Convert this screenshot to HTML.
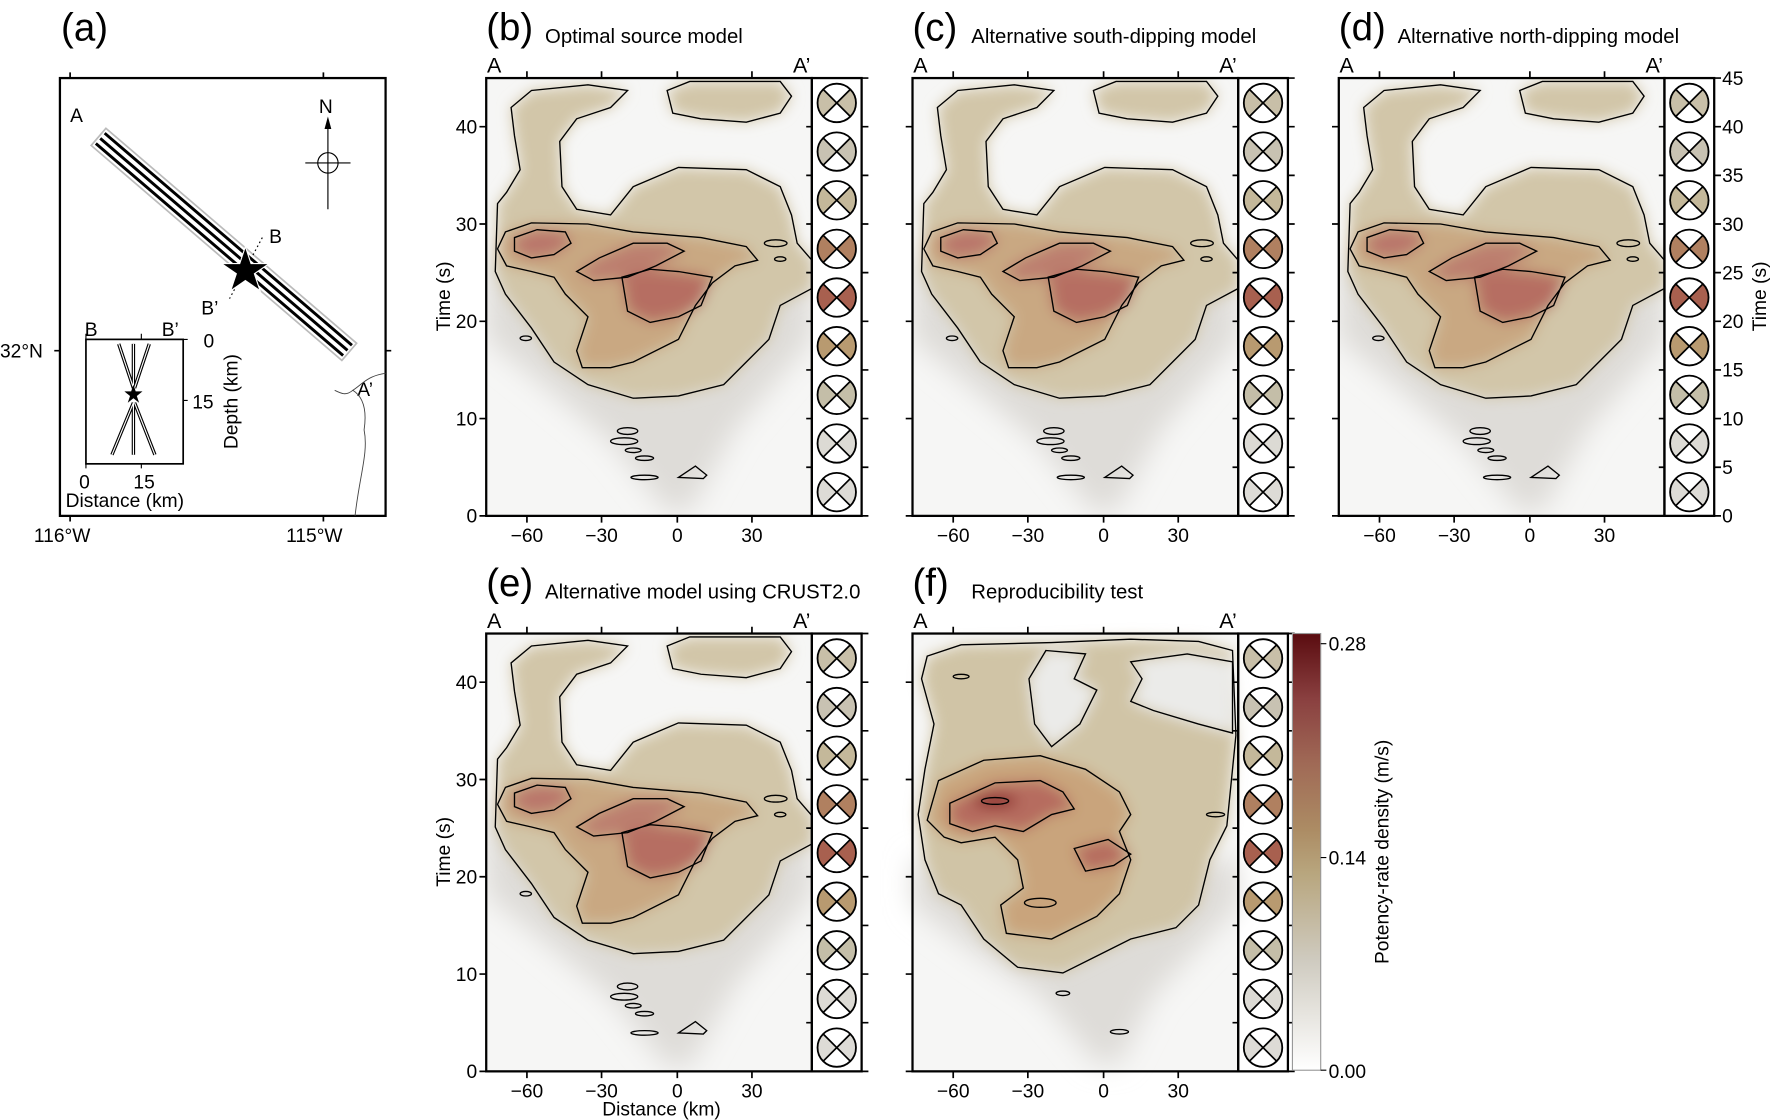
<!DOCTYPE html>
<html><head><meta charset="utf-8"><style>
html,body{margin:0;padding:0;background:#fff}
svg{display:block}
text{font-family:"Liberation Sans",Arial,sans-serif;fill:#000}
</style></head><body>
<svg width="1773" height="1120" viewBox="0 0 1568 990" preserveAspectRatio="none" xmlns="http://www.w3.org/2000/svg">
<defs>
<filter id="bl" x="-20%" y="-20%" width="140%" height="140%"><feGaussianBlur stdDeviation="6"/></filter>
<filter id="bl2" x="-20%" y="-20%" width="140%" height="140%"><feGaussianBlur stdDeviation="12"/></filter>
<clipPath id="cp"><rect x="430" y="69" width="288" height="387"/></clipPath>
<linearGradient id="cb" x1="0" y1="1" x2="0" y2="0">
<stop offset="0" stop-color="#ffffff"/><stop offset="0.25" stop-color="#cfcbc0"/>
<stop offset="0.45" stop-color="#b8a67e"/><stop offset="0.55" stop-color="#ac8c64"/>
<stop offset="0.7" stop-color="#a06a56"/><stop offset="0.85" stop-color="#8a4040"/>
<stop offset="1" stop-color="#5a0c10"/></linearGradient>

<g id="mech">
<circle r="17" fill="#fff"/>
<path d="M0,0 L-12,-12 A17,17 0 0 0 -12,12 Z M0,0 L12,-12 A17,17 0 0 1 12,12 Z"/>
<path d="M-12,-12 L12,12 M12,-12 L-12,12" stroke="#000" stroke-width="1.5" fill="none"/>
<circle r="17" fill="none" stroke="#000" stroke-width="1.6"/>
</g>

<g id="col">
<use href="#mech" x="740" y="91" fill="#c8bfa8"/>
<use href="#mech" x="740" y="134" fill="#c8c2b2"/>
<use href="#mech" x="740" y="177" fill="#c4b89a"/>
<use href="#mech" x="740" y="220" fill="#b08060"/>
<use href="#mech" x="740" y="263" fill="#a8604f"/>
<use href="#mech" x="740" y="306" fill="#b89a70"/>
<use href="#mech" x="740" y="349" fill="#c4bea8"/>
<use href="#mech" x="740" y="392" fill="#dcdad4"/>
<use href="#mech" x="740" y="435" fill="#dddbd6"/>
</g>

<g id="ax" stroke="#000" fill="none">
<rect x="430" y="69" width="288" height="387" stroke-width="2"/>
<rect x="718" y="69" width="44" height="387" stroke-width="2"/>
<path stroke-width="1.5" d="M466,456v6M532,456v6M599,456v6M665,456v6M466,69v-6M532,69v-6M599,69v-6M665,69v-6M430,456h-6M430,370h-6M430,284h-6M430,198h-6M430,112h-6
M762,413h6M762,370h6M762,327h6M762,284h6M762,241h6M762,198h6M762,155h6M762,112h6M762,69h6M762,456h6M718,413h-5M718,370h-5M718,327h-5M718,284h-5M718,241h-5M718,198h-5M718,155h-5M718,112h-5"/>
</g>
<g id="axt" font-size="17">
<text x="437" y="64" text-anchor="middle" font-size="19">A</text>
<text x="709" y="64" text-anchor="middle" font-size="19">A’</text>
<text x="466" y="479" text-anchor="middle">−60</text>
<text x="532" y="479" text-anchor="middle">−30</text>
<text x="599" y="479" text-anchor="middle">0</text>
<text x="665" y="479" text-anchor="middle">30</text>
</g>

<g id="hm" clip-path="url(#cp)">
<rect x="430" y="69" width="288" height="387" fill="#f6f6f5"/>
<polygon points="430,230 718,230 718,300 650,380 610,452 590,452 540,390 480,340 430,300" fill="#dedcd8" filter="url(#bl2)"/>
<g filter="url(#bl)">
<path fill="#d2c6a9" d="M452,95 L470,80 520,75 555,80 540,95 510,105 495,125 497,165 510,185 540,190 560,165 600,148 660,150 690,165 700,190 705,215 718,230 718,255 690,270 680,300 660,320 640,340 600,350 560,352 520,340 490,320 470,290 447,260 438,240 440,180 448,170 460,150 455,120 Z"/>
<path fill="#d2c6a9" d="M590,80 L610,72 690,72 700,85 690,100 660,108 620,105 595,100 Z"/>
<path fill="#c9a882" d="M447,205 L470,197 520,198 560,205 620,210 660,218 670,230 650,235 630,250 615,270 600,300 560,320 540,325 515,325 510,310 520,280 500,260 490,245 470,240 448,235 440,220 Z"/>
<path fill="#b9766a" d="M455,210 L475,203 500,205 505,215 490,225 470,228 455,222 Z"/>
<path fill="#bc7e6e" d="M510,240 L530,228 560,215 590,215 605,222 580,235 555,245 525,248 Z"/>
<path fill="#b66e62" d="M550,245 L575,238 600,240 630,245 620,270 600,280 575,285 555,275 Z"/>
</g>
<g fill="none" stroke="#000" stroke-width="1.2">
<path d="M452,95 L470,80 520,75 555,80 540,95 510,105 495,125 497,165 510,185 540,190 560,165 600,148 660,150 690,165 700,190 705,215 718,230 718,255 690,270 680,300 660,320 640,340 600,350 560,352 520,340 490,320 470,290 447,260 438,240 440,180 448,170 460,150 455,120 Z"/>
<path d="M590,80 L610,72 690,72 700,85 690,100 660,108 620,105 595,100 Z"/>
<path d="M447,205 L470,197 520,198 560,205 620,210 660,218 670,230 650,235 630,250 615,270 600,300 560,320 540,325 515,325 510,310 520,280 500,260 490,245 470,240 448,235 440,220 Z"/>
<path d="M455,210 L475,203 500,205 505,215 490,225 470,228 455,222 Z"/>
<path d="M510,240 L530,228 560,215 590,215 605,222 580,235 555,245 525,248 Z"/>
<path d="M550,245 L575,238 600,240 630,245 620,270 600,280 575,285 555,275 Z"/>
<ellipse cx="555" cy="381" rx="9" ry="3"/><ellipse cx="552" cy="390" rx="12" ry="3"/><ellipse cx="560" cy="398" rx="7" ry="2"/><ellipse cx="570" cy="405" rx="8" ry="2"/><ellipse cx="570" cy="422" rx="12" ry="2"/><path d="M600,422 L615,412 625,420 622,423 Z"/><ellipse cx="686" cy="215" rx="10" ry="3"/><ellipse cx="690" cy="229" rx="5" ry="2"/><ellipse cx="465" cy="299" rx="5" ry="2"/>
</g>
</g>

<g id="hmf">
<rect x="807" y="560" width="288" height="387" fill="#f6f6f5"/>
<polygon points="807,760 1095,760 1095,800 1020,880 990,940 970,940 920,880 860,840 807,800" fill="#dedcd8" filter="url(#bl2)"/>
<g filter="url(#bl)">
<path fill="#d0c4a6" d="M820,580 L850,570 930,568 1000,565 1060,567 1090,575 1093,650 1085,730 1070,760 1060,800 1040,820 1000,830 970,845 940,860 900,855 870,830 850,800 830,790 818,760 812,720 818,680 826,640 815,600 Z"/>
<path fill="#ebebe9" d="M925,575 L960,578 950,600 970,610 955,640 930,660 915,640 910,600 Z M1000,585 L1050,578 1090,585 1090,648 1060,640 1020,628 1000,620 1010,600 Z"/>
<path fill="#c9a47c" d="M830,690 L870,672 920,668 960,680 990,700 1000,720 990,735 1000,760 990,790 970,810 930,830 890,825 885,800 905,785 900,760 880,740 850,745 835,740 820,725 Z"/>
<path fill="#b66c5e" d="M840,710 L880,692 920,690 940,700 950,715 930,720 905,735 880,730 860,735 840,728 Z M950,750 L980,742 1000,755 985,765 960,770 Z"/>
<ellipse cx="880" cy="708" rx="20" ry="6" fill="#8c2c2c"/>
</g>
<g fill="none" stroke="#000" stroke-width="1.2">
<path d="M820,580 L850,570 930,568 1000,565 1060,567 1090,575 1093,650 1085,730 1070,760 1060,800 1040,820 1000,830 970,845 940,860 900,855 870,830 850,800 830,790 818,760 812,720 818,680 826,640 815,600 Z"/>
<path d="M925,575 L960,578 950,600 970,610 955,640 930,660 915,640 910,600 Z M1000,585 L1050,578 1090,585 1090,648 1060,640 1020,628 1000,620 1010,600 Z"/>
<path d="M830,690 L870,672 920,668 960,680 990,700 1000,720 990,735 1000,760 990,790 970,810 930,830 890,825 885,800 905,785 900,760 880,740 850,745 835,740 820,725 Z"/>
<path d="M840,710 L880,692 920,690 940,700 950,715 930,720 905,735 880,730 860,735 840,728 Z M950,750 L980,742 1000,755 985,765 960,770 Z"/>
<ellipse cx="880" cy="708" rx="12" ry="3"/><ellipse cx="920" cy="798" rx="14" ry="4"/>
<ellipse cx="850" cy="598" rx="7" ry="2"/><ellipse cx="940" cy="878" rx="6" ry="2"/><ellipse cx="990" cy="912" rx="8" ry="2"/><ellipse cx="1075" cy="720" rx="8" ry="2"/>
</g>
</g>
</defs>

<!-- panel (a) -->
<text x="54" y="36" font-size="34">(a)</text>
<rect x="53" y="69" width="288" height="387" fill="#fff" stroke="#000" stroke-width="2"/>
<path d="M62,69v-5M286,69v-5M62,456v5M286,456v5M53,310h-5M341,310h5" stroke="#000" stroke-width="1.5"/>
<g transform="rotate(40.6 198 216)">
<rect x="52" y="206" width="292" height="20" fill="#fff" stroke="#bbb" stroke-width="1.5"/>
<path d="M54,210h288M54,216h288M54,222h288" stroke="#000" stroke-width="2.6" fill="none"/>
<path d="M54,213h288M54,219h288" stroke="#fff" stroke-width="2.5" fill="none"/>
</g>
<path d="M232,210 L203,264" stroke="#000" stroke-dasharray="1.5,2.5" fill="none"/>
<polygon points="217,218 222,233 238,233 225,242 230,257 217,248 204,257 209,242 196,233 212,233" fill="#000" stroke="#fff" stroke-width="1"/>
<text x="62" y="108" font-size="17">A</text>
<text x="238" y="215" font-size="17">B</text>
<text x="178" y="278" font-size="17">B’</text>
<text x="316" y="350" font-size="17">A’</text>
<text x="282" y="100" font-size="17">N</text>
<path d="M290,105 V185 M270,144 H310" stroke="#000" fill="none"/>
<circle cx="290" cy="144" r="9" fill="none" stroke="#000"/>
<polygon points="290,103 287,114 293,114" fill="#000"/>
<path d="M341,330 C325,332 320,340 312,345 C320,350 325,360 322,380 C326,400 318,420 314,456" stroke="#444" stroke-width="0.8" fill="none"/>
<path d="M296,345 C302,348 306,350 312,345" stroke="#444" stroke-width="0.8" fill="none"/>
<text x="0" y="316" font-size="17">32°N</text>
<text x="30" y="479" font-size="17">116°W</text>
<text x="253" y="479" font-size="17">115°W</text>
<!-- inset -->
<rect x="76" y="300" width="86" height="110" fill="#fff" stroke="#000" stroke-width="1.5"/>
<path d="M76,300v-5M125,300v-5M162,354h4M162,300h4M76,410v4M125,410v4" stroke="#000"/>
<g stroke="#000" stroke-width="3" fill="none"><path d="M105,304 L118,343 M132,304 L119,343 M118,304 V343 M118,356 L99,402 M119,356 L137,402 M118,356 V402"/></g>
<g stroke="#fff" stroke-width="1" fill="none"><path d="M105,304 L118,343 M132,304 L119,343 M118,304 V343 M118,356 L99,402 M119,356 L137,402 M118,356 V402"/></g>
<polygon points="118,340 120,346 126,346 121,350 123,356 118,352 113,356 115,350 110,346 116,346" fill="#000"/>
<text x="75" y="297" font-size="17">B</text>
<text x="143" y="297" font-size="17">B’</text>
<text x="180" y="307" font-size="17">0</text>
<text x="170" y="361" font-size="17">15</text>
<text x="70" y="432" font-size="17">0</text>
<text x="118" y="432" font-size="17">15</text>
<text x="58" y="448" font-size="17">Distance (km)</text>
<text transform="translate(210,355) rotate(-90)" text-anchor="middle" font-size="17">Depth (km)</text>

<!-- panel b -->
<use href="#hm"/><use href="#ax"/><use href="#axt"/><use href="#col"/>
<text x="430" y="36" font-size="34">(b)</text><text x="482" y="38" font-size="18">Optimal source model</text>
<g font-size="17" text-anchor="end"><text x="422" y="462">0</text><text x="422" y="376">10</text><text x="422" y="290">20</text><text x="422" y="204">30</text><text x="422" y="118">40</text></g>
<text transform="translate(398,262) rotate(-90)" text-anchor="middle" font-size="17">Time (s)</text>

<!-- panel c -->
<g transform="translate(377,0)"><use href="#hm"/><use href="#ax"/><use href="#axt"/><use href="#col"/></g>
<text x="807" y="36" font-size="34">(c)</text><text x="859" y="38" font-size="18">Alternative south-dipping model</text>

<!-- panel d -->
<g transform="translate(754,0)"><use href="#hm"/><use href="#ax"/><use href="#axt"/><use href="#col"/></g>
<text x="1184" y="36" font-size="34">(d)</text><text x="1236" y="38" font-size="18">Alternative north-dipping model</text>
<g font-size="17"><text x="1523" y="462">0</text><text x="1523" y="419">5</text><text x="1523" y="376">10</text><text x="1523" y="333">15</text><text x="1523" y="290">20</text><text x="1523" y="247">25</text><text x="1523" y="204">30</text><text x="1523" y="161">35</text><text x="1523" y="118">40</text><text x="1523" y="75">45</text></g>
<text transform="translate(1562,262) rotate(-90)" text-anchor="middle" font-size="17">Time (s)</text>

<!-- panel e -->
<g transform="translate(0,491)"><use href="#hm"/><use href="#ax"/><use href="#axt"/><use href="#col"/></g>
<text x="430" y="527" font-size="34">(e)</text><text x="482" y="529" font-size="18">Alternative model using CRUST2.0</text>
<g font-size="17" text-anchor="end"><text x="422" y="953">0</text><text x="422" y="867">10</text><text x="422" y="781">20</text><text x="422" y="695">30</text><text x="422" y="609">40</text></g>
<text transform="translate(398,753) rotate(-90)" text-anchor="middle" font-size="17">Time (s)</text>
<text x="585" y="986" text-anchor="middle" font-size="17">Distance (km)</text>

<!-- panel f -->
<use href="#hmf"/>
<g transform="translate(377,491)"><use href="#ax"/><use href="#axt"/><use href="#col"/></g>
<text x="807" y="527" font-size="34">(f)</text><text x="859" y="529" font-size="18">Reproducibility test</text>
<rect x="1143" y="560" width="25" height="386" fill="url(#cb)" stroke="#999" stroke-width="1"/>
<path d="M1168,569h5M1168,758h5M1168,946h5" stroke="#000"/>
<g font-size="17"><text x="1175" y="575">0.28</text><text x="1175" y="764">0.14</text><text x="1175" y="953">0.00</text></g>
<text transform="translate(1228,753) rotate(-90)" text-anchor="middle" font-size="17">Potency-rate density (m/s)</text>
</svg>
</body></html>
